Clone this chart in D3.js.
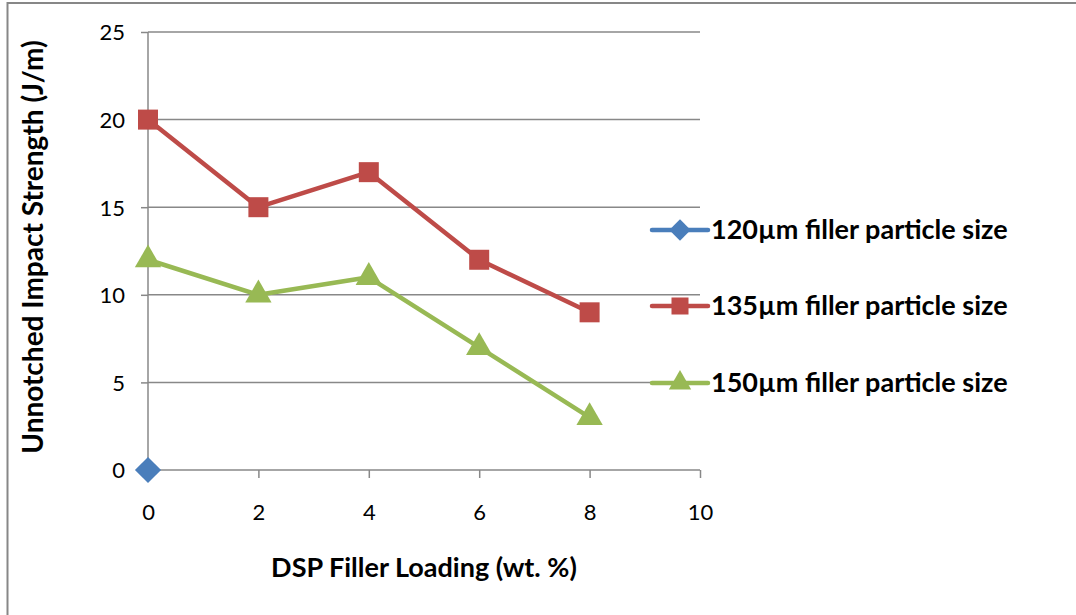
<!DOCTYPE html>
<html>
<head>
<meta charset="utf-8">
<script src="https://cdn.jsdelivr.net/npm/d3@7"></script>
<style>
  body { margin: 0; background: #fff; overflow: hidden; }
  text { font-family: Lato, "Open Sans", sans-serif; fill: #000; }
</style>
</head>
<body>
<div id="chart"></div>
<script>
const loading = [0, 2, 4, 6, 8];
const s120 = [0];
const s135 = [20, 15, 17, 12, 9];
const s150 = [12, 10, 11, 7, 3];
const seriesNames = ['120µm filler particle size', '135µm filler particle size', '150µm filler particle size'];
const xTicks = [0, 2, 4, 6, 8, 10];
const yTicks = [0, 5, 10, 15, 20, 25];

const width = 1076, height = 615;
const margin = {top: 32, left: 148};
const innerWidth = 552, innerHeight = 438;

const svg = d3.select('#chart').append('svg')
    .attr('width', width)
    .attr('height', height)
    .style('display', 'block');

// chart border: only left and top edges show in the picture
svg.append('path')
    .attr('d', `M7.5,${height}V3H${width}`)
    .attr('fill', 'none')
    .attr('stroke', '#878787')
    .attr('stroke-width', 2);

const g = svg.append('g')
    .attr('transform', `translate(${margin.left},${margin.top})`);

const xScale = d3.scaleLinear().domain([0, 10]).range([0, innerWidth]);
const yScale = d3.scaleLinear().domain([0, 25]).range([innerHeight, 0]);

// gridlines
g.selectAll('.grid').data(yTicks.slice(1)).enter().append('line')
    .attr('x1', 0).attr('x2', innerWidth)
    .attr('y1', d => yScale(d)).attr('y2', d => yScale(d))
    .attr('stroke', '#888').attr('stroke-width', 1.5);

const yAxis = d3.axisLeft(yScale).tickValues(yTicks).tickSize(7).tickPadding(16);
const yAxisG = g.append('g').call(yAxis)
    .attr('font-size', 22).attr('font-family', null);
yAxisG.selectAll('line, path').attr('stroke', '#888').attr('stroke-width', 1.5);
yAxisG.select('.domain').attr('d', `M0,${innerHeight}V0`);
yAxisG.selectAll('text').attr('dy', '0.36em');

const xAxis = d3.axisBottom(xScale).tickValues(xTicks).tickSize(8).tickPadding(26);
const xAxisG = g.append('g').call(xAxis)
    .attr('transform', `translate(0,${innerHeight})`)
    .attr('font-size', 22).attr('font-family', null);
xAxisG.selectAll('line, path').attr('stroke', '#888').attr('stroke-width', 1.5);
xAxisG.select('.domain').attr('d', `M0,0H${innerWidth}`);

// axis titles
svg.append('text')
    .attr('transform', `translate(43,${margin.top + innerHeight / 2 - 4}) rotate(-90)`)
    .attr('text-anchor', 'middle')
    .attr('font-size', 28).attr('font-weight', 'bold')
    .text('Unnotched Impact Strength (J/m)');

svg.append('text')
    .attr('x', 424).attr('y', 577)
    .attr('text-anchor', 'middle')
    .attr('font-size', 27).attr('font-weight', 'bold')
    .text('DSP Filler Loading (wt. %)');

const colors = ['#4A7EBB', '#BE4B48', '#98B954'];
const allSeries = [s120, s135, s150];

const line = d3.line()
    .x((d, i) => xScale(loading[i]))
    .y(d => yScale(d));

function drawMarker(sel, k, size) {
    if (k === 0) {
        sel.append('path').attr('d', d3.symbol(d3.symbolDiamond2, size * size * 0.9)).attr('fill', colors[k]);
    } else if (k === 1) {
        sel.append('rect').attr('x', -size / 2).attr('y', -size / 2)
            .attr('width', size).attr('height', size).attr('fill', colors[k]);
    } else {
        sel.append('path').attr('d', d3.symbol(d3.symbolTriangle, size * size * 0.75)).attr('fill', colors[k]);
    }
}

allSeries.forEach((vals, k) => {
    g.append('path')
        .attr('d', line(vals))
        .attr('fill', 'none')
        .attr('stroke', colors[k])
        .attr('stroke-width', 4.5)
        .attr('stroke-linejoin', 'round');
    vals.forEach((v, i) => {
        const m = g.append('g').attr('transform', `translate(${xScale(loading[i])},${yScale(v)})`);
        drawMarker(m, k, k === 0 ? 22 : 20);
    });
});

// legend
const legendY = [230, 306, 383];
seriesNames.forEach((name, k) => {
    const lg = svg.append('g').attr('transform', `translate(652,${legendY[k]})`);
    lg.append('line').attr('x1', 0).attr('x2', 56)
        .attr('stroke', colors[k]).attr('stroke-width', 4.5).attr('stroke-linecap', 'round');
    const m = lg.append('g').attr('transform', 'translate(28,0)');
    drawMarker(m, k, k === 0 ? 18 : 17);
    lg.append('text').attr('x', 59).attr('dy', '0.35em')
        .attr('font-size', 27).attr('font-weight', 'bold')
        .text(name);
});
</script>
</body>
</html>
